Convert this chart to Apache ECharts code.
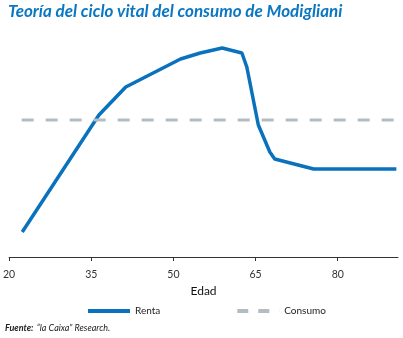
<!DOCTYPE html>
<html><head><meta charset="utf-8">
<script src="https://cdn.jsdelivr.net/npm/echarts@6/dist/echarts.min.js"></script>
<style>html,body{margin:0;padding:0;background:#fff}#c{width:403px;height:338px}</style>
</head><body><div id="c"></div>
<script>
var rentaAges   = [22.4, 36.4, 41.3, 51.3, 54.9, 58.9, 62.5, 63.4, 65.5, 67.6, 68.5, 75.6, 90.7];
var rentaValues = [25,   142,  170,  198,  204,  209,  204,  190,  132,  105,  98,   88,   88];
var consumoAges   = [22.3, 90.4];
var consumoValues = [137, 137];
var xTicks = [20, 35, 50, 65, 80];

var chart = echarts.init(document.getElementById('c'), null, {renderer:'canvas'});
var font = 'Lato';
chart.setOption({
  animation:false,
  title:{text:'Teoría del ciclo vital del consumo de Modigliani', left:3, top:-2,
    textStyle:{fontFamily:font, fontStyle:'italic', fontWeight:'bold', fontSize:17, color:'#0a77c2'}},
  grid:{left:7.5, right:5, top:40, bottom:81},
  xAxis:{type:'value', min:20, max:91, name:'Edad', nameLocation:'middle', nameGap:26,
    nameTextStyle:{fontFamily:font, fontSize:12, color:'#111'},
    axisLine:{lineStyle:{color:'#333', width:1}},
    axisTick:{show:true, length:4, customValues:xTicks, lineStyle:{color:'#333'}},
    axisLabel:{customValues:xTicks, fontFamily:font, fontSize:10.5, color:'#333', margin:12},
    splitLine:{show:false}},
  yAxis:{type:'value', min:0, max:217, show:false},
  legend:{bottom:17, left:83, itemWidth:42, itemHeight:4, itemGap:77,
    textStyle:{fontFamily:font, fontSize:10, color:'#222'},
    data:[{name:'Renta', icon:'path://M0,0L42,0L42,4L0,4Z'},
          {name:'Consumo', icon:'path://M0,0L11,0L11,4L0,4ZM21,0L32,0L32,4L21,4ZM41.9,0L42,0L42,4L41.9,4Z'}]},
  graphic:[{type:'text', left:5, top:322, style:{rich:{b:{fontFamily:font, fontStyle:'italic', fontWeight:'bold', fontSize:9, fill:'#222'}, n:{fontFamily:font, fontStyle:'italic', fontSize:9, fill:'#222'}}, text:'{b|Fuente:} {n|“la Caixa” Research.}'}}],
  series:[
    {name:'Renta', type:'line', symbol:'none', lineStyle:{color:'#0a72bd', width:3.5}, itemStyle:{color:'#0a72bd'},
      data:rentaAges.map(function(a,i){return [a, rentaValues[i]];})},
    {name:'Consumo', type:'line', symbol:'none', lineStyle:{color:'#b3bdc1', width:3, type:[12,12]}, itemStyle:{color:'#b3bdc1'},
      data:consumoAges.map(function(a,i){return [a, consumoValues[i]];})}
  ]
});
</script></body></html>
